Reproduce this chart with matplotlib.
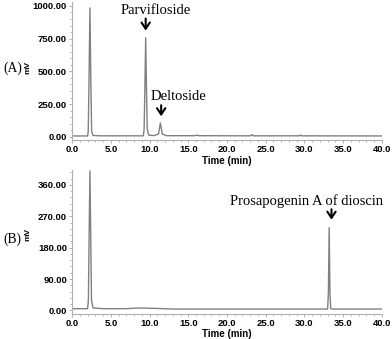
import matplotlib
matplotlib.use("Agg")
import matplotlib.pyplot as plt
from matplotlib.ticker import MultipleLocator, FormatStrFormatter

# chromatogram (A): time (min) and signal (mV)
time_a = [0.0, 2.0, 2.08, 2.18, 2.3, 2.42, 2.52, 2.7, 3.5, 9.2, 9.3, 9.4, 9.5, 9.6, 9.7,
          9.9, 10.6, 11.15, 11.3, 11.4, 11.5, 11.65, 12.2, 15.8, 16.1, 16.4, 23.0, 23.2,
          23.4, 29.35, 29.5, 29.65, 40.0]
mv_a = [6, 6, 40, 420, 985, 420, 40, 10, 7, 7, 60, 380, 757, 380, 60,
        12, 9, 20, 70, 105, 70, 20, 8, 8, 12, 8, 7, 16,
        7, 7, 13, 7, 6]

# chromatogram (B)
time_b = [0.0, 2.0, 2.1, 2.2, 2.3, 2.4, 2.5, 2.7, 4.0, 7.0, 8.5, 10.5, 13.0, 33.0,
          33.1, 33.2, 33.3, 33.4, 33.6, 40.0]
mv_b = [5, 5, 30, 220, 400, 220, 30, 7, 5, 5, 7, 6, 4, 4,
        50, 237, 50, 6, 4, 4]

labels_a = ["Parvifloside", "Deltoside"]
label_t_a = [9.5, 11.5]
labels_b = ["Prosapogenin A of dioscin"]
label_t_b = [33.5]

plt.rcParams['font.family'] = 'Liberation Sans'
fig = plt.figure(figsize=(3.92, 3.39), dpi=100)
ax1 = fig.add_axes([0.184, 0.587, 0.79, 0.407])
ax2 = fig.add_axes([0.184, 0.074, 0.79, 0.425])

spine_col = '#b0b0b0'
for ax in (ax1, ax2):
    for s in ('top', 'right'):
        ax.spines[s].set_visible(False)
    for s in ('left', 'bottom'):
        ax.spines[s].set_color(spine_col)
        ax.spines[s].set_linewidth(0.8)
    ax.set_xlim(0, 40)
    ax.xaxis.set_major_locator(MultipleLocator(5))
    ax.xaxis.set_minor_locator(MultipleLocator(1))
    ax.xaxis.set_major_formatter(FormatStrFormatter('%.1f'))
    ax.yaxis.set_major_formatter(FormatStrFormatter('%.2f'))
    ax.tick_params(which='major', length=2.5, width=0.7, color=spine_col, labelsize=6.8, pad=1.2)
    ax.tick_params(which='minor', length=1.5, width=0.6, color=spine_col)
    for lab in ax.get_xticklabels() + ax.get_yticklabels():
        lab.set_fontweight('bold')
    ax.set_xlabel('Time (min)', fontsize=7, fontweight='bold', labelpad=1)
    ax.set_ylabel('mV', fontsize=6, fontweight='bold')

ax1.yaxis.set_label_coords(-0.132, 0.525)
ax2.yaxis.set_label_coords(-0.132, 0.555)

ax1.plot(time_a, mv_a, color='#808080', lw=1.0)
ax1.set_ylim(-25, 1030)
ax1.yaxis.set_major_locator(MultipleLocator(250))
ax1.yaxis.set_minor_locator(MultipleLocator(50))

ax2.plot(time_b, mv_b, color='#808080', lw=1.0)
ax2.set_ylim(-10, 403)
ax2.yaxis.set_major_locator(MultipleLocator(90))
ax2.yaxis.set_minor_locator(MultipleLocator(18))

serif = dict(family='Liberation Serif', fontsize=10.5)
arrow = dict(arrowstyle='->,head_length=0.45,head_width=0.3', color='black', lw=1.5)

# annotations (A)
ax1.annotate('', xy=(label_t_a[0], 790), xytext=(label_t_a[0], 925), arrowprops=arrow)
ax1.text(label_t_a[0] - 3.3, 965, labels_a[0], ha='left', va='center', **serif)
ax1.annotate('', xy=(label_t_a[1], 135), xytext=(label_t_a[1], 262), arrowprops=arrow)
ax1.text(label_t_a[1] - 1.4, 305, labels_a[1], ha='left', va='center', **serif)

# annotations (B)
ax2.annotate('', xy=(label_t_b[0], 252), xytext=(label_t_b[0], 298), arrowprops=arrow)
ax2.text(label_t_b[0] + 6.7, 313, labels_b[0], ha='right', va='center', **serif)

fig.text(0.008, 0.799, '(A)', family='Liberation Serif', fontsize=9.8, va='center')
fig.text(0.008, 0.295, '(B)', family='Liberation Serif', fontsize=9.8, va='center')

fig.savefig('out.png', dpi=100)
